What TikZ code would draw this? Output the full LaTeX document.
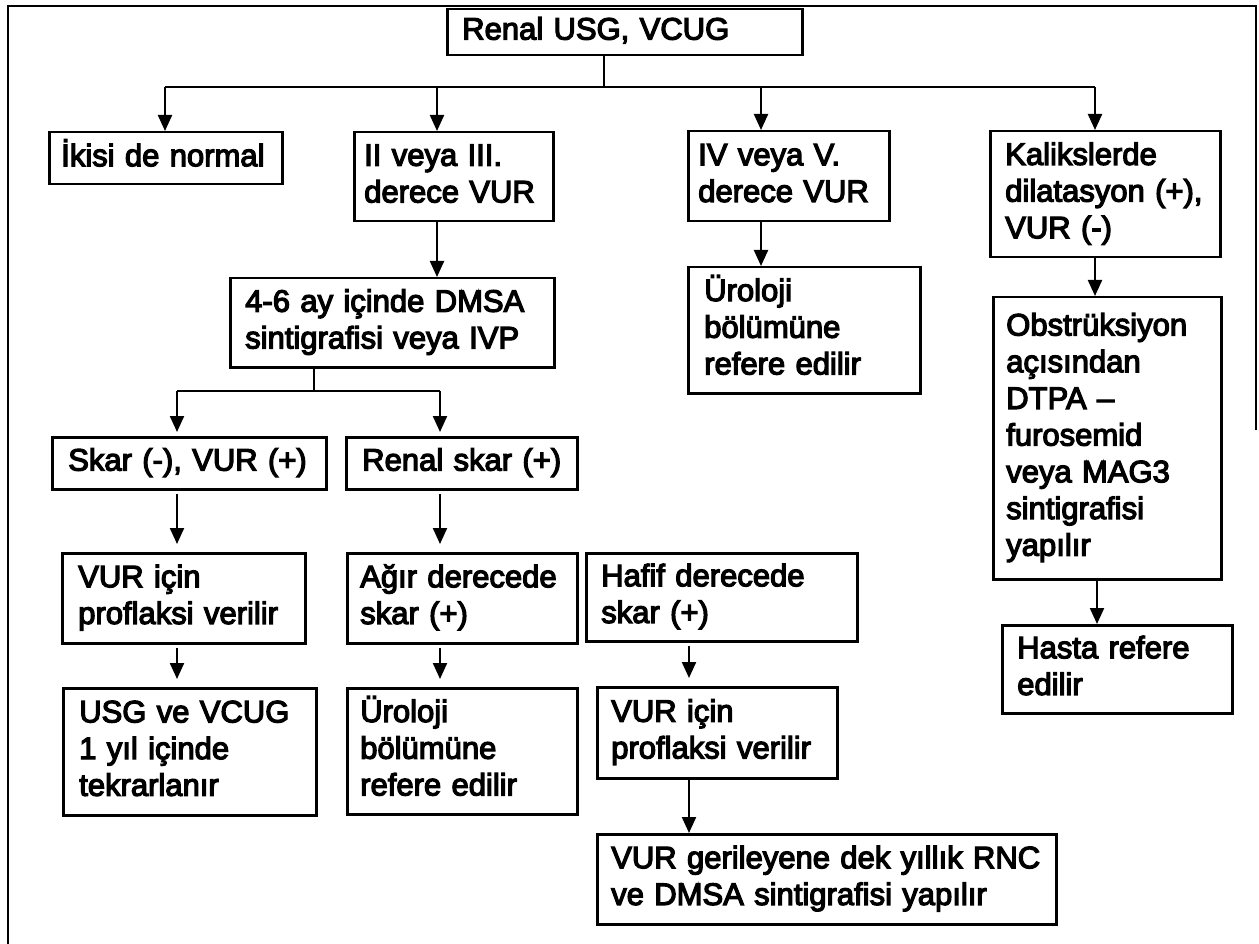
\documentclass[tikz,border=0pt]{standalone}
\usepackage{fontspec}
\newfontfamily\hv{Liberation Sans}[FakeBold=4]
\usetikzlibrary{arrows.meta}
\begin{document}
\begin{tikzpicture}[x=1pt,y=-1pt,
  box/.style={draw, line width=2.5pt, anchor=north west, inner xsep=14pt, inner ysep=0pt,
    align=left, font=\hv\fontsize{31}{36.7}\selectfont,
    execute at begin node=\strut, execute at end node=\strut},
  ln/.style={line width=2.2pt},
  arr/.style={line width=2.2pt, -{Triangle[length=16pt,width=14pt]}},
  gap/.style={shorten >=8pt, shorten <=3pt}]
\useasboundingbox (0,0) rectangle (1259,944);
\draw[line width=2.6pt] (8,944) -- (8,6) -- (1256,6) -- (1256,430);

\node[box, minimum width=355pt, text width=325pt, inner xsep=15pt, minimum height=46pt] (top) at (446,8) {Renal USG, VCUG};
\node[box, minimum width=233pt, text width=209pt, inner xsep=12pt, minimum height=52pt] (ikisi) at (48,131) {İkisi de normal};
\node[box, minimum width=199pt, text width=179pt, inner xsep=10pt, minimum height=89pt] (ii) at (353,131) {II veya III.\\derece VUR};
\node[box, minimum width=201pt, text width=181pt, inner xsep=10pt, minimum height=90pt] (iv) at (687,130) {IV veya V.\\derece VUR};
\node[box, minimum width=230pt, text width=200pt, inner xsep=15pt, minimum height=126pt] (kal) at (989,130) {Kalikslerde\\dilatasyon (+),\\VUR (-)};
\node[box, minimum width=324pt, text width=294pt, inner xsep=15pt, minimum height=89pt] (dmsa) at (229,277) {4-6 ay içinde DMSA\\sintigrafisi veya IVP};
\node[box, minimum width=232pt, text width=200pt, inner xsep=16pt, minimum height=126pt] (uro1) at (687,266) {Üroloji\\bölümüne\\refere edilir};
\node[box, minimum width=228pt, text width=202pt, inner xsep=13pt, minimum height=282pt] (obs) at (992,296) {Obstrüksiyon\\açısından\\DTPA –\\furosemid\\veya MAG3\\sintigrafisi\\yapılır};
\node[box, minimum width=274pt, text width=242pt, inner xsep=16pt, minimum height=52pt] (skar) at (51,436) {Skar (-), VUR (+)};
\node[box, minimum width=231pt, text width=199pt, inner xsep=16pt, minimum height=52pt] (renal) at (345,436) {Renal skar (+)};
\node[box, minimum width=243pt, text width=211pt, inner xsep=16pt, minimum height=90pt] (vurL) at (61,552) {VUR için\\proflaksi verilir};
\node[box, minimum width=230pt, text width=204pt, inner xsep=13pt, minimum height=90pt] (agir) at (346,552) {Ağır derecede\\skar (+)};
\node[box, minimum width=271pt, text width=241pt, inner xsep=15pt, minimum height=88pt] (hafif) at (585,552) {Hafif derecede\\skar (+)};
\node[box, minimum width=253pt, text width=221pt, inner xsep=16pt, minimum height=127pt] (usg) at (62,687) {USG ve VCUG\\1 yıl içinde\\tekrarlanır};
\node[box, minimum width=230pt, text width=204pt, inner xsep=13pt, minimum height=126pt] (uro2) at (346,687) {Üroloji\\bölümüne\\refere edilir};
\node[box, minimum width=240pt, text width=212pt, inner xsep=14pt, minimum height=91pt] (vurR) at (596,686) {VUR için\\proflaksi verilir};
\node[box, minimum width=459pt, text width=431pt, inner xsep=14pt, minimum height=90pt] (vurger) at (596,833) {VUR gerileyene dek yıllık RNC\\ve DMSA sintigrafisi yapılır};
\node[box, minimum width=230pt, text width=200pt, inner xsep=15pt, minimum height=88pt] (hasta) at (1001,624) {Hasta refere\\edilir};

\coordinate (j0) at (604,87);
\coordinate (j1) at (165,87);
\coordinate (j2) at (437,87);
\coordinate (j3) at (761,87);
\coordinate (j4) at (1095,87);
\draw[ln] (top.south -| j0) -- (j0);
\draw[ln] (j1) -- (j4);
\draw[arr] (j1) -- (ikisi.north -| j1);
\draw[arr] (j2) -- (ii.north -| j2);
\draw[arr] (j3) -- (iv.north -| j3);
\draw[arr] (j4) -- (kal.north -| j4);
\draw[arr] (ii.south -| j2) -- (dmsa.north -| j2);

\coordinate (k0) at (314,391);
\coordinate (k1) at (177,391);
\coordinate (k2) at (440,391);
\draw[ln] (dmsa.south -| k0) -- (k0);
\draw[ln] (k1) -- (k2);
\draw[arr, shorten >=4pt] (k1) -- (skar.north -| k1);
\draw[arr, shorten >=4pt] (k2) -- (renal.north -| k2);
\draw[arr] (iv.south -| j3) -- (uro1.north -| j3);
\draw[arr] (kal.south -| j4) -- (obs.north -| j4);
\draw[arr, gap] (skar.south -| k1) -- (vurL.north -| k1);
\draw[arr, gap] (renal.south -| k2) -- (agir.north -| k2);
\draw[arr, gap] (vurL.south -| k1) -- (usg.north -| k1);
\draw[arr, gap] (agir.south -| k2) -- (uro2.north -| k2);

\coordinate (h) at (689,700);
\coordinate (o) at (1097,600);
\draw[arr, gap] (hafif.south -| h) -- (vurR.north -| h);
\draw[arr] (vurR.south -| h) -- (vurger.north -| h);
\draw[arr] (obs.south -| o) -- (hasta.north -| o);
\end{tikzpicture}
\end{document}
